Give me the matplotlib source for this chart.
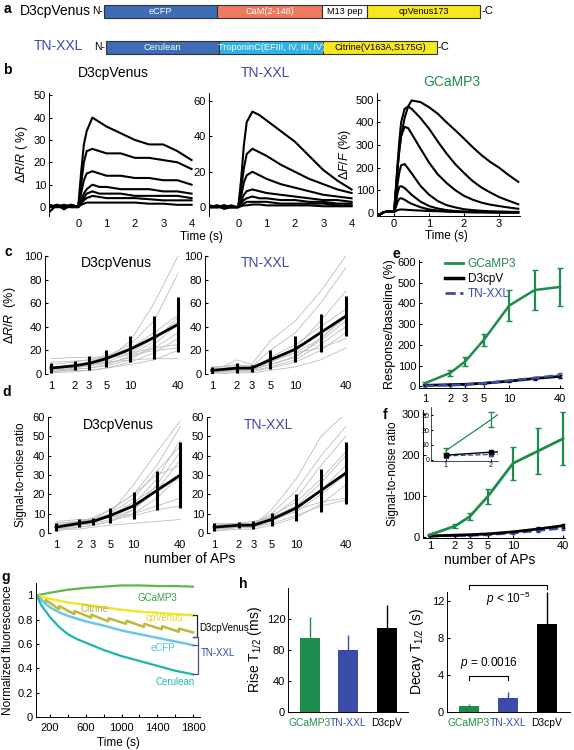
import matplotlib.pyplot as plt
from matplotlib.lines import Line2D

plt.rcParams['font.family'] = ['Liberation Sans', 'DejaVu Sans']
plt.rcParams['mathtext.fontset'] = 'custom'
plt.rcParams['mathtext.rm'] = 'Liberation Sans'
plt.rcParams['mathtext.it'] = 'Liberation Sans:italic'
plt.rcParams['font.size'] = 8
plt.rcParams['xtick.direction'] = 'in'
plt.rcParams['ytick.direction'] = 'in'
plt.rcParams['xtick.major.size'] = 2.5
plt.rcParams['ytick.major.size'] = 2.5
plt.rcParams['xtick.major.pad'] = 2.5
plt.rcParams['ytick.major.pad'] = 2
plt.rcParams['axes.linewidth'] = 0.7

W, H = 574, 750
GREEN = '#1f8b4c'
BLUE = '#3b4ba8'

# ---------------- data ----------------
# a: construct domains
d3_domains = ['eCFP', 'CaM(2-148)', 'M13 pep', 'cpVenus173']
d3_lengths = [113, 105, 45, 113]
tn_domains = ['Cerulean', 'TroponinC(EFIII, IV, III, IV)', 'Citrine(V163A,S175G)']
tn_lengths = [113, 104, 114]

# b: example traces (1, 2, 3, 5, 10, 20, 40 APs)
t_b = [-1, -0.75, -0.5, -0.25, 0, 0.1, 0.2, 0.3, 0.5, 0.75, 1, 1.5, 2, 2.5, 3, 3.5, 4]
d3_traces = [
    [-2, 1, -1, 1, 0, 15, 28, 34, 40, 38, 36, 33, 30, 28, 28, 25, 21],
    [0, 0, 1, 0, 0, 10, 20, 25, 26, 25, 24, 24, 22, 22, 21, 20, 17],
    [0, 1, 0, 1, 0, 6, 12, 15, 16, 15, 14, 14, 13, 13, 12, 12, 10],
    [1, 0, 0, 0, 0, 3, 6, 8, 10, 9, 9, 8, 8, 8, 7, 7, 6],
    [0, 0, 1, 0, 0, 2, 4, 6, 7, 6, 6, 6, 5, 5, 5, 5, 4],
    [0, 1, 0, 0, 0, 1.5, 3, 4, 5, 4.5, 4, 4, 4, 3.5, 3, 3, 3],
    [0, 0, 0, 1, 0, 1, 1.5, 2, 2, 2, 2, 2, 2, 1.5, 1.5, 1, 1],
]
tn_traces = [
    [0, 1, -1, 0, 0, 15, 35, 48, 54, 52, 49, 43, 37, 29, 21, 15, 10],
    [0, 0, 1, 0, 0, 10, 22, 30, 33, 31, 29, 24, 20, 16, 13, 10, 8],
    [1, 0, 0, 0, 0, 6, 14, 18, 20, 18, 16, 13, 11, 9, 7, 6, 5],
    [0, 0, 0, 1, 0, 3, 7, 9, 10, 9, 8, 7, 6, 5, 4, 4, 3],
    [0, 1, 0, 0, 0, 2, 4, 5, 6, 5, 5, 4, 4, 3, 3, 2, 2],
    [0, 0, 1, 0, 0, 1, 2, 3, 3, 3, 3, 2, 2, 2, 2, 1, 1],
    [0, 0, 0, 0, 0, 0.5, 1, 1, 1.5, 1.5, 1, 1, 1, 1, 0.5, 0.5, 0.5],
]
t_gc = [-0.45, -0.3, -0.15, 0, 0.05, 0.1, 0.15, 0.2, 0.3, 0.4, 0.5, 0.75, 1,
        1.25, 1.5, 1.75, 2, 2.25, 2.5, 2.75, 3, 3.25, 3.55]
gc_traces = [
    [-12, 3, 6, 4, 100, 200, 280, 340, 420, 470, 497, 490, 467, 438, 400, 365, 328, 290, 255, 225, 200, 170, 137],
    [-12, 3, 6, 4, 110, 220, 320, 400, 460, 470, 460, 420, 372, 315, 262, 215, 176, 140, 112, 90, 70, 55, 38],
    [-12, 3, 6, 4, 100, 200, 280, 340, 380, 375, 350, 285, 222, 170, 132, 100, 75, 58, 45, 36, 30, 24, 18],
    [-12, 3, 6, 4, 60, 130, 180, 210, 216, 196, 175, 120, 80, 52, 34, 24, 16, 12, 9, 7, 6, 5, 4],
    [-12, 3, 6, 4, 40, 90, 115, 118, 110, 95, 80, 50, 30, 19, 12, 8, 6, 5, 4, 3, 3, 2, 2],
    [-12, 3, 6, 4, 25, 50, 62, 65, 58, 48, 40, 25, 15, 10, 6, 4, 3, 2, 2, 2, 1, 1, 1],
    [-12, 3, 6, 4, 8, 12, 14, 15, 14, 13, 12, 10, 8, 7, 6, 5, 4, 3, 3, 2, 2, 2, 2],
]

# c, d: response vs number of APs
aps = [1, 2, 3, 5, 10, 20, 40]
ap_ticks = [1, 2, 3, 5, 10, 40]

c_d3_mean = [5, 7, 9, 13, 21, 31, 42]
c_d3_err = [4, 4, 6, 7, 11, 18, 23]
c_d3_cells = [
    [3, 5, 7, 12, 28, 60, 100], [5, 8, 10, 15, 25, 45, 85], [8, 10, 12, 15, 22, 35, 50],
    [2, 4, 5, 8, 15, 28, 48], [4, 6, 8, 10, 18, 30, 45], [13, 14, 14, 15, 18, 22, 25],
    [10, 11, 12, 14, 16, 20, 22], [1, 2, 3, 5, 10, 18, 30], [5, 6, 7, 9, 14, 22, 35],
    [2, 3, 3, 5, 8, 12, 20], [6, 7, 8, 10, 12, 13, 13], [3, 4, 5, 7, 12, 25, 42],
]
c_tn_mean = [3, 5, 5, 12, 21, 35, 49]
c_tn_err = [3, 4, 3, 8, 11, 16, 17]
c_tn_cells = [
    [2, 12, 8, 28, 45, 70, 100], [5, 8, 6, 20, 35, 60, 90], [1, 3, 3, 10, 22, 45, 70],
    [4, 6, 5, 14, 25, 40, 55], [2, 4, 4, 8, 15, 28, 45], [3, 5, 5, 10, 18, 30, 48],
    [1, 2, 2, 5, 10, 20, 35], [6, 7, 7, 12, 18, 22, 30], [2, 3, 3, 6, 12, 25, 40],
    [3, 4, 4, 8, 14, 30, 50], [0, 1, 1, 3, 6, 12, 22],
]
d_d3_mean = [3, 5, 6, 9, 14, 22, 30]
d_d3_err = [2, 2, 2, 4, 7, 10, 17]
d_d3_cells = [
    [2, 4, 6, 10, 25, 42, 58], [3, 5, 7, 12, 20, 35, 55], [5, 6, 7, 9, 15, 28, 48],
    [4, 5, 6, 8, 12, 22, 38], [2, 3, 4, 6, 10, 18, 30], [6, 7, 7, 8, 10, 14, 18],
    [1, 3, 4, 6, 12, 25, 42], [3, 4, 5, 7, 9, 12, 14], [2, 2, 3, 4, 5, 6, 7],
    [4, 6, 8, 12, 20, 30, 35], [3, 4, 5, 9, 16, 24, 28], [5, 6, 7, 10, 18, 32, 45],
]
d_tn_mean = [3, 4, 4, 7, 13, 22, 31]
d_tn_err = [2, 1.5, 2, 3.5, 7, 11, 16]
d_tn_cells = [
    [2, 5, 4, 12, 28, 50, 62], [3, 4, 5, 10, 22, 40, 55], [1, 3, 3, 8, 18, 35, 50],
    [4, 5, 5, 9, 16, 28, 42], [2, 3, 3, 6, 12, 22, 35], [5, 5, 6, 8, 12, 16, 18],
    [3, 4, 4, 7, 11, 20, 30], [1, 2, 2, 4, 8, 15, 25], [4, 5, 5, 8, 14, 26, 40],
    [2, 3, 3, 5, 9, 14, 17],
]

# e: response / baseline (%)
e_gc = [15, 65, 120, 225, 390, 465, 480]
e_gc_err = [5, 15, 20, 30, 75, 95, 90]
e_d3 = [5, 8, 10, 15, 25, 38, 48]
e_d3_err = [1, 1, 2, 2, 3, 5, 6]
e_tn = [3, 5, 8, 15, 28, 40, 55]
e_tn_err = [1, 1, 2, 3, 4, 6, 8]

# f: signal-to-noise ratio
f_gc = [6, 27, 50, 100, 180, 210, 240]
f_gc_err = [1.5, 5, 8, 18, 40, 55, 65]
f_d3 = [3, 5, 6, 8, 13, 20, 28]
f_d3_err = [0.8, 1, 1.5, 2, 3, 4, 5]
f_tn = [2.5, 3.5, 4, 6, 10, 16, 22]
f_tn_err = [0.5, 0.8, 1, 1.5, 2, 3, 4]

# g: photobleaching
t_gcamp = [50, 100, 200, 400, 600, 800, 1000, 1200, 1400, 1600, 1800]
gcamp_bleach = [1.0, 1.005, 1.02, 1.045, 1.06, 1.07, 1.08, 1.08, 1.075, 1.075, 1.07]
t_cpv = [50, 100, 200, 400, 600, 800, 1000, 1200, 1400, 1600, 1800]
cpvenus_bleach = [1.0, 0.99, 0.97, 0.94, 0.92, 0.90, 0.88, 0.865, 0.855, 0.845, 0.835]
t_cit = [50, 150, 155, 300, 305, 470, 475, 660, 665, 850, 855, 1050, 1055,
         1250, 1255, 1450, 1455, 1640, 1645, 1800]
citrine_bleach = [1.0, 0.935, 0.96, 0.885, 0.91, 0.845, 0.87, 0.815, 0.84, 0.785, 0.81,
                  0.765, 0.79, 0.74, 0.765, 0.72, 0.745, 0.70, 0.725, 0.695]
t_ecfp = [50, 100, 200, 300, 400, 600, 800, 1000, 1200, 1400, 1600, 1800]
ecfp_bleach = [1.0, 0.96, 0.9, 0.86, 0.83, 0.785, 0.75, 0.71, 0.68, 0.65, 0.62, 0.59]
t_cer = [50, 100, 200, 300, 400, 500, 600, 800, 1000, 1200, 1400, 1600, 1800]
cerulean_bleach = [1.0, 0.92, 0.82, 0.74, 0.68, 0.64, 0.61, 0.55, 0.50, 0.46, 0.42, 0.38, 0.35]

# h: kinetics
sensors = ['GCaMP3', 'TN-XXL', 'D3cpV']
rise = [95, 80, 108]
rise_err = [28, 20, 30]
decay = [0.6, 1.5, 9.5]
decay_err = [0.3, 0.7, 3.5]

sensor_colors = [GREEN, BLUE, 'black']

# ---------------- figure ----------------
fig = plt.figure(figsize=(W / 100, H / 100), dpi=100)


def box(l, t, r, b):
    return [l / W, 1 - b / H, (r - l) / W, (b - t) / H]


def txt(x, y, s, **kw):
    kw.setdefault('ha', 'center')
    kw.setdefault('va', 'center')
    fig.text(x / W, 1 - y / H, s, **kw)


def clean(ax, bottom=True):
    ax.spines[['top', 'right']].set_visible(False)
    if not bottom:
        ax.spines['bottom'].set_visible(False)
        ax.tick_params(axis='x', length=0)


# ---- a ----
ax = fig.add_axes(box(0, 0, W, 62))
ax.set_xlim(0, W)
ax.set_ylim(62, 0)
ax.axis('off')
rows = [
    (11, 104, d3_domains, d3_lengths, ['#3d6db5', '#ee7a5e', 'white', '#f6e81e'],
     ['white', 'white', 'black', 'black']),
    (47, 106, tn_domains, tn_lengths, ['#3d6db5', '#2fb3e6', '#f6e81e'],
     ['white', 'white', 'black']),
]
for y0, x0, names, lens, cols, tcols in rows:
    left = x0
    for n, L, c, tc in zip(names, lens, cols, tcols):
        ax.barh(y0, L, left=left, height=13, color=c, edgecolor='#333333', lw=0.8)
        ax.text(left + L / 2, y0 + 0.5, n, color=tc, ha='center', va='center', fontsize=6.6)
        left += L
    ax.text(x0 - 1, y0, 'N-', ha='right', va='center', fontsize=7.5)
    ax.text(left + 1, y0, '-C', ha='left', va='center', fontsize=8)
txt(55, 11, 'D3cpVenus', fontsize=10)
txt(58, 46, 'TN-XXL', fontsize=10, color=BLUE)

# ---- b ----
ax = fig.add_axes(box(49, 93, 193, 216))
for tr in d3_traces:
    ax.plot(t_b, tr, color='k', lw=1.5)
ax.set_xlim(-1.03, 4.05)
ax.set_ylim(-4, 51)
ax.set_xticks([0, 1, 2, 3, 4])
ax.set_yticks([0, 10, 20, 30, 40, 50])
clean(ax, bottom=False)
ax.set_ylabel(r'$\Delta R/R$ ( %)', fontsize=9, labelpad=3)

ax = fig.add_axes(box(209, 93, 353, 216))
for tr in tn_traces:
    ax.plot(t_b, tr, color='k', lw=1.5)
ax.set_xlim(-1.03, 4.05)
ax.set_ylim(-5, 64.5)
ax.set_xticks([0, 1, 2, 3, 4])
ax.set_yticks([0, 20, 40, 60])
clean(ax, bottom=False)

ax = fig.add_axes(box(377, 93, 520, 216))
for tr in gc_traces:
    ax.plot(t_gc, tr, color='k', lw=1.5)
ax.set_xlim(-0.49, 3.6)
ax.set_ylim(-14, 530)
ax.set_xticks([0, 1, 2, 3])
ax.set_yticks([0, 100, 200, 300, 400, 500])
clean(ax)
ax.set_ylabel(r'$\Delta F/F$ (%)', fontsize=9, labelpad=2)

txt(113, 73, 'D3cpVenus', fontsize=10)
txt(265, 73, 'TN-XXL', fontsize=10, color=BLUE)
txt(452, 82, 'GCaMP3', fontsize=10, color=GREEN)
txt(201, 237, 'Time (s)', fontsize=8.5)
txt(446, 236, 'Time (s)', fontsize=8.5)


# ---- c, d ----
def ap_ax(rect, cells, mean, err, xlim, ylim, yticks):
    ax = fig.add_axes(box(*rect))
    for cell in cells:
        ax.plot(aps, cell, color='#bdbdbd', lw=0.6)
    ax.errorbar(aps, mean, yerr=err, color='k', lw=2, elinewidth=2.2, capsize=0)
    ax.set_xscale('log')
    ax.set_xlim(xlim)
    ax.set_ylim(ylim)
    ax.set_xticks(ap_ticks)
    ax.set_xticklabels([str(a) for a in ap_ticks])
    ax.minorticks_off()
    ax.set_yticks(yticks)
    clean(ax, bottom=False)
    ax.tick_params(axis='x', pad=5)
    return ax


ax = ap_ax((45, 256, 182, 374), c_d3_cells, c_d3_mean, c_d3_err, (0.84, 45), (0, 100), range(0, 101, 20))
ax.set_ylabel(r'$\Delta R/R$  (%)', fontsize=9, labelpad=4)
ap_ax((205, 256, 350, 374), c_tn_cells, c_tn_mean, c_tn_err, (0.83, 45), (0, 100), range(0, 101, 20))
ax = ap_ax((48, 417, 185, 533), d_d3_cells, d_d3_mean, d_d3_err, (0.79, 46), (0, 60), range(0, 61, 10))
ax.set_ylabel('Signal-to-noise ratio', fontsize=8.5, labelpad=4)
ap_ax((207, 417, 350, 533), d_tn_cells, d_tn_mean, d_tn_err, (0.82, 45), (0, 60), range(0, 61, 10))

txt(116, 263, 'D3cpVenus', fontsize=10)
txt(265, 263, 'TN-XXL', fontsize=10, color=BLUE)
txt(118, 425, 'D3cpVenus', fontsize=10)
txt(268, 425, 'TN-XXL', fontsize=10, color=BLUE)
txt(190, 559, 'number of APs', fontsize=10)

# ---- e ----
ax = fig.add_axes(box(419, 260, 563, 388))
ax.errorbar(aps, e_d3, yerr=e_d3_err, color='k', lw=2, capsize=1.5, elinewidth=1.5)
ax.errorbar(aps, e_tn, yerr=e_tn_err, color=BLUE, lw=1.8, ls='--', capsize=1.5, elinewidth=1.5)
ax.errorbar(aps, e_gc, yerr=e_gc_err, color=GREEN, lw=1.8, capsize=2.5, elinewidth=1.6)
ax.set_xscale('log')
ax.set_xlim(0.85, 43.4)
ax.set_ylim(-8, 610)
ax.set_xticks(ap_ticks)
ax.set_xticklabels([str(a) for a in ap_ticks])
ax.minorticks_off()
ax.set_yticks(range(0, 601, 100))
clean(ax)
ax.tick_params(axis='x', pad=4)
ax.set_ylabel('Response/baseline (%)', fontsize=9, labelpad=1)
handles = [Line2D([], [], color=GREEN, lw=2), Line2D([], [], color='k', lw=2.5),
           Line2D([], [], color=BLUE, lw=2, ls='--')]
leg = ax.legend(handles, ['GCaMP3', 'D3cpV', 'TN-XXL'], loc='upper left',
                bbox_to_anchor=(0.15, 1.05), frameon=False, handlelength=1.5,
                fontsize=8.5, borderaxespad=0, labelspacing=0.25, handletextpad=0.4)
for t, c in zip(leg.get_texts(), [GREEN, 'k', BLUE]):
    t.set_color(c)

# ---- f ----
ax = fig.add_axes(box(423, 410, 565, 538))
ax.errorbar(aps, f_tn, yerr=f_tn_err, color=BLUE, lw=1.8, ls='--', capsize=1.5)
ax.errorbar(aps, f_d3, yerr=f_d3_err, color='k', lw=2, capsize=1.5)
ax.errorbar(aps, f_gc, yerr=f_gc_err, color=GREEN, lw=2, capsize=2.5, elinewidth=1.6)
ax.set_xscale('log')
ax.set_xlim(0.823, 42.3)
ax.set_ylim(-2, 310)
ax.set_xticks(ap_ticks)
ax.set_xticklabels([str(a) for a in ap_ticks])
ax.minorticks_off()
ax.set_yticks([0, 100, 200, 300])
clean(ax)
ax.tick_params(axis='x', pad=2)
ax.set_ylabel('Signal-to-noise ratio', fontsize=8.5, labelpad=2)

ins = fig.add_axes(box(431, 407, 498, 461))
ins.errorbar(aps, f_tn, yerr=f_tn_err, color=BLUE, lw=1, ls='--', marker='s', ms=2.5, capsize=1.5)
ins.errorbar(aps, f_d3, yerr=f_d3_err, color='k', lw=1, marker='s', ms=2.5, capsize=1.5)
ins.errorbar(aps, f_gc, yerr=f_gc_err, color=GREEN, lw=0.9, capsize=2)
ins.set_xlim(0.67, 2.16)
ins.set_ylim(-1, 35.7)
ins.set_xticks([1, 2])
ins.set_yticks([0, 10, 20, 30])
ins.tick_params(labelsize=5, length=1.5, pad=1)
ins.spines[['top', 'right']].set_visible(False)
ins.spines[['left', 'bottom']].set_linewidth(0.5)
txt(490, 560, 'number of APs', fontsize=10)

# ---- g ----
ax = fig.add_axes(box(36, 583, 200, 717))
ax.plot(t_gcamp, gcamp_bleach, color='#5cb848', lw=1.6)
ax.plot(t_cpv, cpvenus_bleach, color='#f2e62c', lw=1.8)
ax.plot(t_cit, citrine_bleach, color='#bdb83c', lw=1.8)
ax.plot(t_ecfp, ecfp_bleach, color='#68c9e0', lw=1.8)
ax.plot(t_cer, cerulean_bleach, color='#1db6ae', lw=1.6)
ax.set_xlim(43, 1878)
ax.set_ylim(0, 1.1)
ax.set_xticks(range(200, 1801, 200))
ax.set_xticklabels(['200', '', '600', '', '1000', '', '1400', '', '1800'])
ax.set_yticks([0, 0.2, 0.4, 0.6, 0.8, 1])
ax.set_yticklabels(['0', '0.2', '0.4', '0.6', '0.8', '1'])
clean(ax)
ax.tick_params(axis='x', pad=4)
ax.set_xlabel('Time (s)', fontsize=8.5, labelpad=3)
ax.set_ylabel('Normalized fluorescence', fontsize=8.5, labelpad=3)
ax.text(1400, 1.02, 'GCaMP3', color='#3d9d3d', fontsize=7, ha='center', va='top')
ax.text(700, 0.925, 'Citrine', color='#b5b040', fontsize=7, ha='center', va='top')
ax.text(1480, 0.85, 'cpVenus', color='#e5d620', fontsize=7, ha='center', va='top')
ax.text(1460, 0.61, 'eCFP', color='#55c4e0', fontsize=7, ha='center', va='top')
ax.text(1600, 0.33, 'Cerulean', color='#1db6ae', fontsize=7, ha='center', va='top')
# brackets
ax.plot([1800, 1840, 1840, 1800], [0.835, 0.835, 0.66, 0.66], color='#222222', lw=0.9, clip_on=False)
ax.plot([1800, 1855, 1855, 1800], [0.66, 0.66, 0.35, 0.35], color='#4a4aa0', lw=0.9, clip_on=False)
ax.plot([1800, 1855], [0.59, 0.59], color='#4a4aa0', lw=0.9, clip_on=False)
txt(224, 628, 'D3cpVenus', fontsize=7)
txt(218, 653, 'TN-XXL', fontsize=7, color=BLUE)


# ---- h ----
def kin_ax(rect, vals, errs, ylim, yticks, xlim):
    ax = fig.add_axes(box(*rect))
    pos = [1, 2, 3]
    ax.bar(pos, vals, width=0.52, color=sensor_colors)
    for p, v, e, c in zip(pos, vals, errs, sensor_colors):
        ax.plot([p, p], [v, v + e], color=c, lw=1, solid_capstyle='butt')
    ax.set_xlim(xlim)
    ax.set_ylim(ylim)
    ax.set_yticks(yticks)
    ax.set_xticks(pos)
    ax.set_xticklabels(sensors, fontsize=7.4)
    for t, c in zip(ax.get_xticklabels(), sensor_colors):
        t.set_color(c)
    ax.tick_params(axis='x', length=0, pad=4)
    clean(ax)
    return ax


ax = kin_ax((288, 588, 408, 712), rise, rise_err, (0, 160), [0, 40, 80, 120], (0.43, 3.55))
ax.set_ylabel(r'Rise T$_{1/2}$ (ms)', fontsize=10, labelpad=2)
ax = kin_ax((447, 592, 570, 712), decay, decay_err, (0, 13), [0, 4, 8, 12], (0.44, 3.59))
ax.set_ylabel(r'Decay T$_{1/2}$ (s)', fontsize=10, labelpad=4)
ax.plot([1, 1, 2, 2], [3.45, 3.95, 3.95, 3.45], color='k', lw=0.8)
ax.text(1.5, 4.4, r'$p$ = 0.0016', ha='center', va='bottom', fontsize=8.5)
ax.plot([1, 1, 3, 3], [13.3, 13.75, 13.75, 13.3], color='k', lw=0.8, clip_on=False)
ax.text(2, 13.2, r'$p$ < 10$^{-5}$', ha='center', va='top', fontsize=8.5)

# panel letters
for s, x, y in [('a', 7, 9), ('b', 7, 70), ('c', 8, 252), ('d', 7, 392), ('e', 396, 254),
                ('f', 385, 415), ('g', 6, 577), ('h', 243, 584)]:
    txt(x, y, s, fontsize=10, fontweight='bold')

fig.savefig('out.png', dpi=100)
